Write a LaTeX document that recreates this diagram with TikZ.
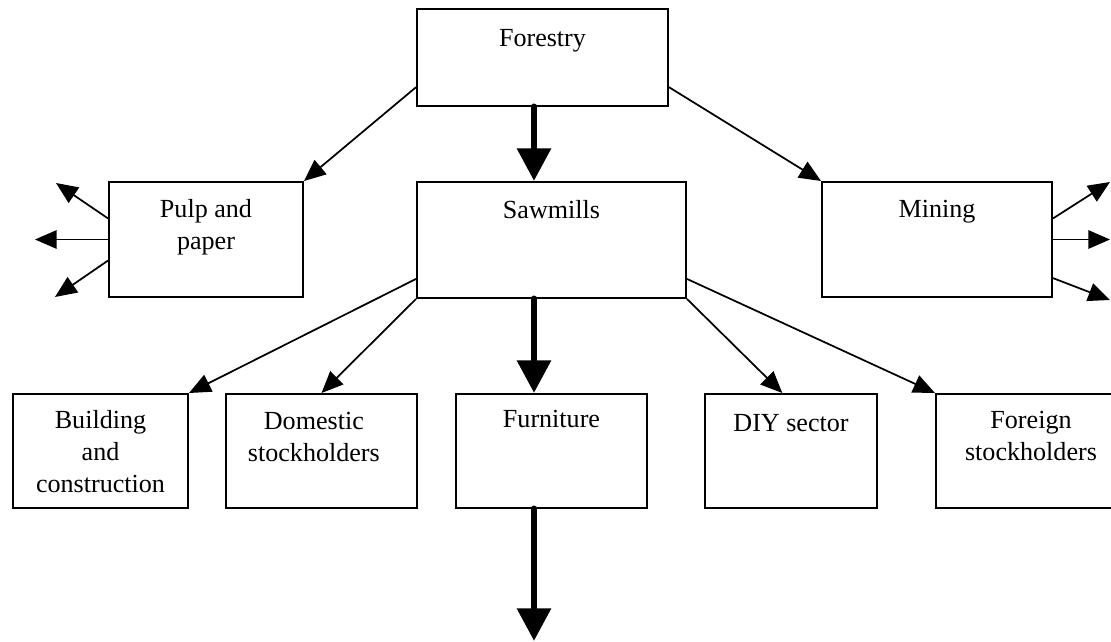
\documentclass[tikz,border=0pt]{standalone}
\usepackage{fontspec}
\setmainfont{Liberation Serif}
\usetikzlibrary{arrows.meta,positioning,fit,calc}

\begin{document}
\begin{tikzpicture}[x=0.46pt, y=-0.46pt,
    every node/.style={font=\fontsize{12}{14.7}\selectfont},
    box/.style={draw, line width=0.9pt, inner sep=0pt},
    txt/.style={inner sep=0pt, align=center},
    flow/.style={line width=0.8pt, -{Triangle[length=10pt, width=8.5pt]}},
    mainflow/.style={line width=3.2pt, line cap=round, -{Triangle[length=15pt, width=15pt]}}]
    \useasboundingbox (0,0) rectangle (1111,642);
    \clip (0,0) rectangle (1111,642);

    \node[box, fit={(417,9) (668,106)}] (forestry) {};
    \node[box, fit={(109,182) (303,297)}] (pulp) {};
    \node[box, fit={(417,182) (686,298)}] (sawmills) {};
    \node[box, fit={(822,182) (1052,297)}] (mining) {};
    \node[box, fit={(13,394) (188,508)}] (building) {};
    \node[box, fit={(226,394) (417,508)}] (domestic) {};
    \node[box, fit={(456,394) (647,508)}] (furniture) {};
    \node[box, fit={(705,394) (877,508)}] (diy) {};
    \node[box, fit={(936,394) (1126,508)}] (foreign) {};

    \node[txt, below=9.7pt of forestry.north] (forestry-t) {Forestry};
    \node[txt, below=8.3pt of pulp.north] (pulp-t) {Pulp and\\paper};
    \node[txt, below=8.8pt of sawmills.north] (sawmills-t) {Sawmills};
    \node[txt, below=8.6pt of mining.north] (mining-t) {Mining};
    \node[txt, below=8.0pt of building.north] (building-t) {Building\\and\\construction};
    \node[txt, below=8.6pt of domestic.north, xshift=-3.5pt] (domestic-t) {Domestic\\stockholders};
    \node[txt, below=7.5pt of furniture.north] (furniture-t) {Furniture};
    \node[txt, below=9.5pt of diy.north] (diy-t) {DIY sector};
    \node[txt, below=8.3pt of foreign.north] (foreign-t) {Foreign\\stockholders};

    \coordinate (trunk) at (534,0);
    \coordinate (sink) at (534,641);
    \coordinate (pulp-a) at (56,183);
    \coordinate (pulp-b) at (pulp.west -| 35,0);
    \coordinate (pulp-c) at (55,297);
    \coordinate (mining-a) at (1110,182);
    \coordinate (mining-b) at (mining.east -| 1110,0);
    \coordinate (mining-c) at (1110,300);

    \draw[mainflow] (forestry.south -| trunk) -- (sawmills.north -| trunk);
    \draw[mainflow] (sawmills.south -| trunk) -- (furniture.north -| trunk);
    \draw[mainflow] (furniture.south -| trunk) -- (sink);

    \draw[flow] ($(forestry.south west)!0.2!(forestry.north west)$) -- (pulp.north east);
    \draw[flow] ($(forestry.south east)!0.2!(forestry.north east)$) -- (mining.north west);

    \draw[flow] ($(sawmills.south west)!0.17!(sawmills.north west)$) -- (building.north east);
    \draw[flow] (sawmills.south west) -- (domestic.north);
    \draw[flow] (sawmills.south east) -- ($(diy.north west)!0.45!(diy.north east)$);
    \draw[flow] ($(sawmills.south east)!0.17!(sawmills.north east)$) -- (foreign.north west);

    \draw[flow] ($(pulp.south west)!0.68!(pulp.north west)$) -- (pulp-a);
    \draw[flow] (pulp.west) -- (pulp-b);
    \draw[flow] ($(pulp.south west)!0.32!(pulp.north west)$) -- (pulp-c);

    \draw[flow] ($(mining.south east)!0.68!(mining.north east)$) -- (mining-a);
    \draw[flow] (mining.east) -- (mining-b);
    \draw[flow] ($(mining.south east)!0.17!(mining.north east)$) -- (mining-c);
\end{tikzpicture}
\end{document}
